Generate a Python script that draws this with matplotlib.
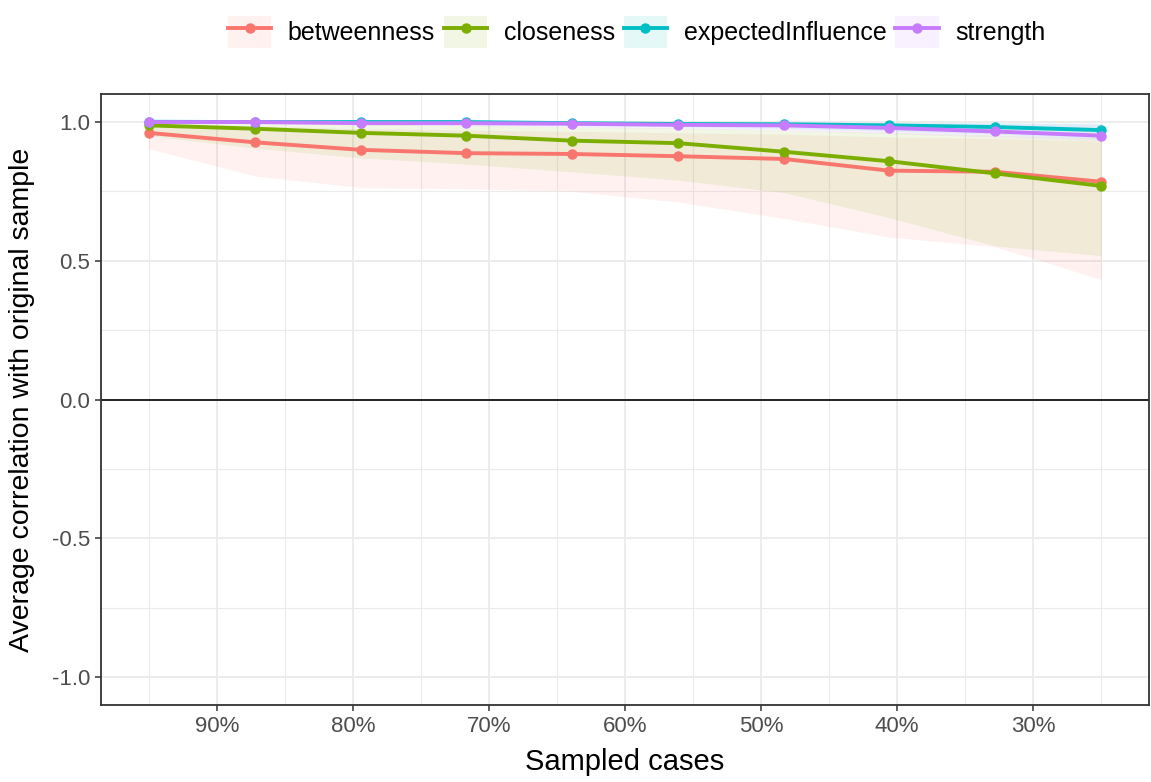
import numpy as np
import matplotlib
matplotlib.use("Agg")
import matplotlib.pyplot as plt
from matplotlib.lines import Line2D
from matplotlib.patches import Patch

plt.rcParams['font.family'] = ['Liberation Sans', 'DejaVu Sans']

# sampled cases (percent of original sample)
sampled = [95.0, 87.2, 79.4, 71.7, 63.9, 56.1, 48.3, 40.6, 32.8, 25.0]

measures = ["betweenness", "closeness", "expectedInfluence", "strength"]
colors = ["#F8766D", "#7CAE00", "#00BFC4", "#C77CFF"]

# average correlation with original sample
betweenness = [0.960, 0.926, 0.899, 0.887, 0.884, 0.876, 0.866, 0.824, 0.820, 0.784]
closeness = [0.987, 0.975, 0.960, 0.950, 0.932, 0.923, 0.892, 0.858, 0.814, 0.769]
expected_influence = [1.000, 0.999, 0.999, 0.999, 0.995, 0.992, 0.991, 0.987, 0.981, 0.970]
strength = [0.999, 0.999, 0.995, 0.995, 0.993, 0.989, 0.987, 0.978, 0.965, 0.950]

# quantile bands
betweenness_lo = [0.903, 0.805, 0.763, 0.759, 0.750, 0.711, 0.652, 0.585, 0.550, 0.432]
betweenness_hi = [0.995, 0.985, 0.975, 0.970, 0.965, 0.960, 0.955, 0.945, 0.940, 0.930]
closeness_lo = [0.950, 0.905, 0.870, 0.848, 0.820, 0.790, 0.745, 0.655, 0.553, 0.518]
closeness_hi = [1.000, 0.995, 0.990, 0.988, 0.982, 0.978, 0.970, 0.962, 0.952, 0.942]
expected_influence_lo = [0.997, 0.995, 0.993, 0.990, 0.986, 0.982, 0.976, 0.966, 0.955, 0.940]
expected_influence_hi = [1.000, 1.000, 1.000, 1.000, 1.000, 0.999, 0.999, 0.998, 0.997, 0.995]
strength_lo = [0.996, 0.993, 0.989, 0.986, 0.981, 0.976, 0.969, 0.958, 0.945, 0.932]
strength_hi = [1.000, 1.000, 1.000, 1.000, 0.999, 0.999, 0.998, 0.997, 0.995, 0.992]

means = [betweenness, closeness, expected_influence, strength]
lows = [betweenness_lo, closeness_lo, expected_influence_lo, strength_lo]
highs = [betweenness_hi, closeness_hi, expected_influence_hi, strength_hi]

fig = plt.figure(figsize=(11.51, 7.82), dpi=100)
ax = fig.add_axes([101 / 1151, 1 - 705 / 782, 1048 / 1151, 611 / 782])

for lo, hi, c in zip(lows, highs, colors):
    ax.fill_between(sampled, lo, hi, color=c, alpha=0.1, linewidth=0, zorder=1)

ax.axhline(0, color="black", linewidth=1.2, zorder=1.5)

for m, c in zip(means, colors):
    ax.plot(sampled, m, color=c, linewidth=2.8, marker="o", markersize=6.5, zorder=2)

ax.set_xlim(98.5, 21.5)
ax.set_ylim(-1.1, 1.1)
ax.set_xticks([90, 80, 70, 60, 50, 40, 30])
ax.set_xticklabels(["90%", "80%", "70%", "60%", "50%", "40%", "30%"])
ax.set_xticks([95, 85, 75, 65, 55, 45, 35, 25], minor=True)
ax.set_yticks([-1, -0.5, 0, 0.5, 1])
ax.set_yticklabels(["-1.0", "-0.5", "0.0", "0.5", "1.0"])
ax.set_yticks([-0.75, -0.25, 0.25, 0.75], minor=True)

ax.grid(which="major", color="#EBEBEB", linewidth=1.3, zorder=0)
ax.grid(which="minor", color="#EBEBEB", linewidth=0.8, zorder=0)
ax.set_axisbelow(True)

for s in ax.spines.values():
    s.set_color("#333333")
    s.set_linewidth(1.3)

ax.tick_params(which="major", length=4, width=1.1, color="#333333",
               labelsize=16, labelcolor="#4D4D4D", pad=4)
ax.tick_params(which="minor", length=0)

ax.set_xlabel("Sampled cases", fontsize=21, labelpad=8)
ax.set_ylabel("Average correlation with original sample", fontsize=20.5, labelpad=12)

handles = []
for c in colors:
    handles.append((Patch(facecolor=c, alpha=0.1, edgecolor="none"),
                    Line2D([], [], color=c, linewidth=2.8, marker="o", markersize=6.5)))
fig.legend(handles, measures, loc="upper center", bbox_to_anchor=(0.553, 1.008),
           ncol=4, frameon=False, fontsize=18, handlelength=1.75, handleheight=1.6,
           columnspacing=0.35, handletextpad=0.65)

fig.savefig("out.png", dpi=100)
